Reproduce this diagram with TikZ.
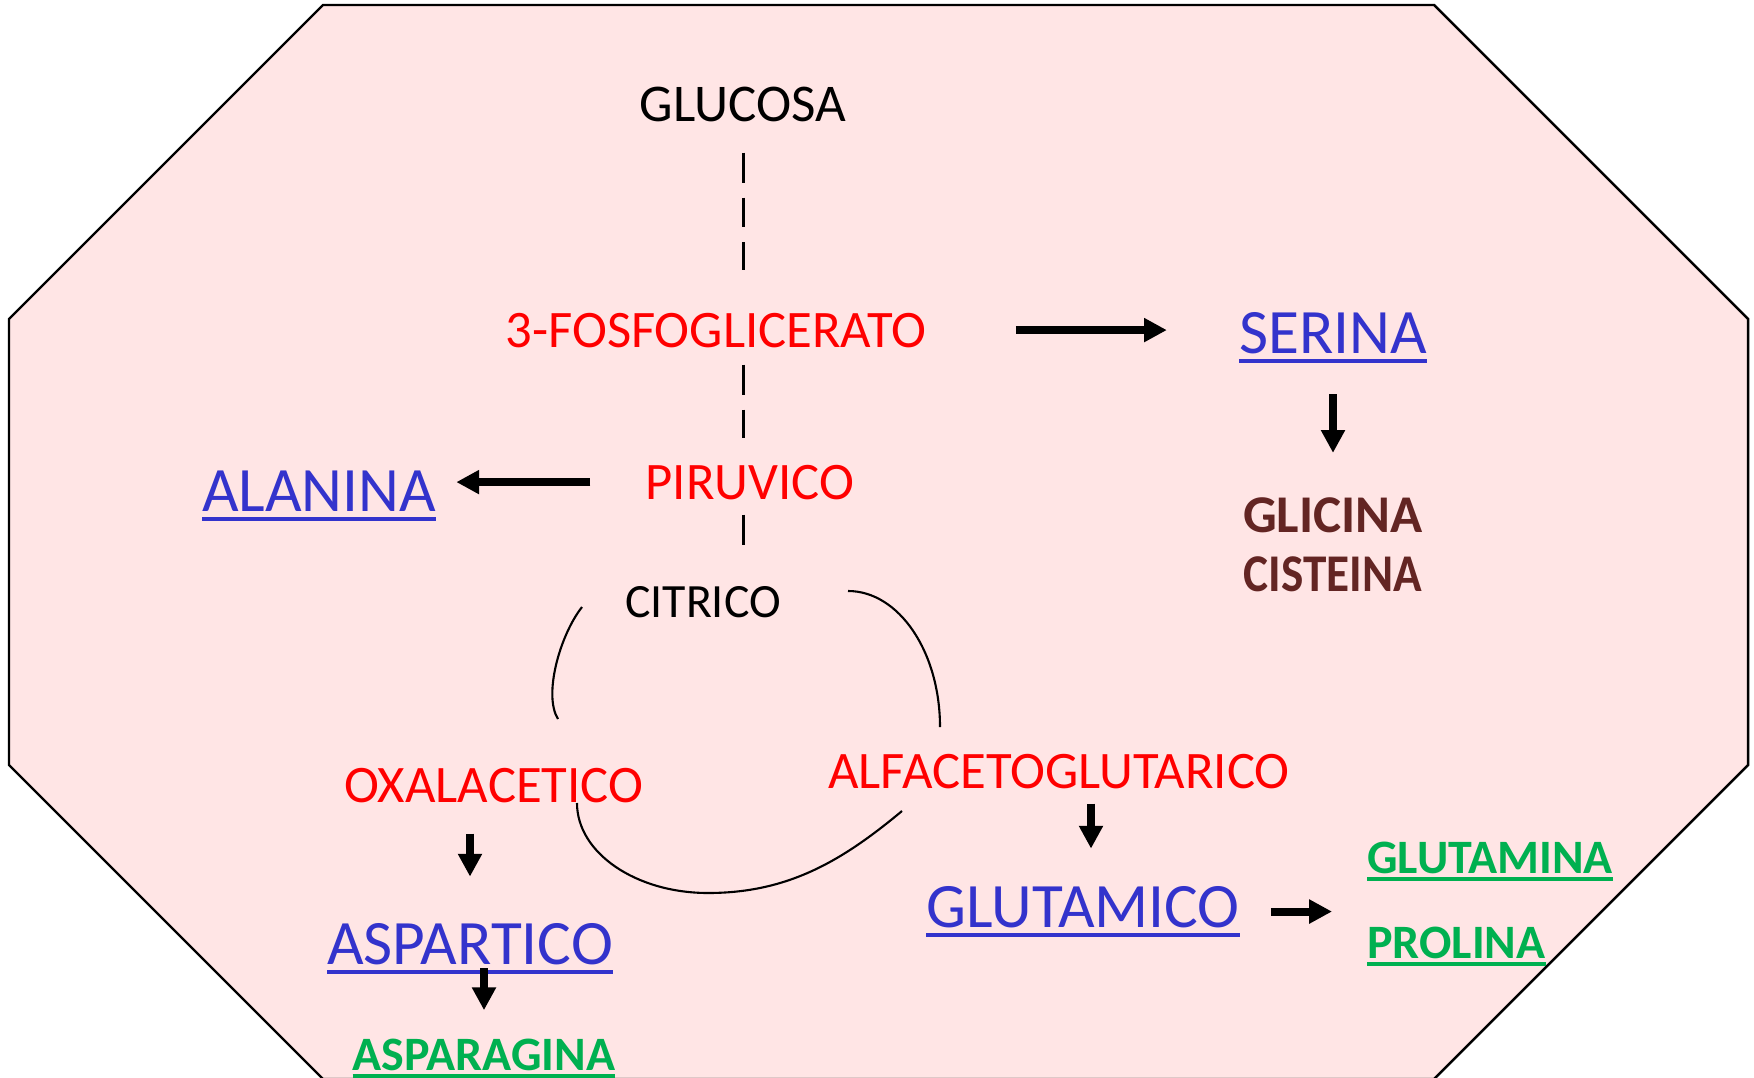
\documentclass[tikz,border=0pt]{standalone}
\usepackage{fontspec}
\setmainfont{Carlito}
\usepackage{graphicx}
\usetikzlibrary{arrows.meta,calc}
\usepackage{xcolor}

\definecolor{cellpink}{RGB}{255,229,229}
\definecolor{metred}{RGB}{255,0,0}
\definecolor{aminoblue}{RGB}{51,51,204}
\definecolor{prodbrown}{RGB}{99,37,35}
\definecolor{branchgreen}{RGB}{0,176,80}

\newsavebox{\ulbox}
\newcommand{\ulined}[1]{\sbox{\ulbox}{#1}\rlap{\rule[-0.16em]{\wd\ulbox}{0.07em}}\usebox{\ulbox}}

\begin{document}
\begin{tikzpicture}[
        x=0.02cm, y=-0.02cm,
        glyco/.style={inner sep=0pt, anchor=base, font=\fontsize{30.2}{36}\selectfont},
        inter/.style={glyco, text=metred, font=\fontsize{30}{36}\selectfont},
        amino/.style={inner sep=0pt, anchor=base, text=aminoblue, font=\fontsize{36}{43}\selectfont},
        product/.style={inner sep=0pt, anchor=base, text=prodbrown, font=\bfseries\fontsize{30.2}{36}\selectfont},
        branch/.style={inner sep=0pt, anchor=base west, text=branchgreen, font=\bfseries\fontsize{27.3}{33}\selectfont},
        fat/.style={-{Triangle[length=13pt,width=13pt]}, line width=4.5pt},
        route/.style={line width=1.7pt, dash pattern=on 17pt off 8.5pt},
        krebs/.style={line width=1.2pt}
    ]
        \useasboundingbox (0,0) rectangle (1754,1078);

        % Cell outline
        \draw[line width=1.4pt, fill=cellpink] (323,5) -- (1434,5) -- (1748,319) -- (1748,765)
            -- (1434,1079) -- (323,1079) -- (9,765) -- (9,319) -- cycle;

        % Main pathway
        \node[glyco] (glucosa) at (743,122) {GLUCOSA};
        \node[inter] (fosfo) at (716,347) {3-FOSFOGLICERATO};
        \node[inter] (piruvico) at (750,499) {PIRUVICO};
        \node[glyco, font=\fontsize{27.2}{33}\selectfont] (citrico) at (703,617) {CITRICO};
        \node[inter] (oxal) at (494,802) {OXALACETICO};
        \node[inter] (alfa) at (1059,788) {ALFACETOGLUTARICO};

        % Amino acids
        \node[amino] (serina) at (1333,353) {\ulined{SERINA}};
        \node[amino] (alanina) at (319,511) {\ulined{ALANINA}};
        \node[amino] (glutamico) at (1083,927) {\ulined{GLUTAMICO}};
        \node[amino] (aspartico) at (470,964) {\ulined{ASPARTICO}};
        \node[product] (glicina) at (1333,532) {GLICINA};
        \node[product] (cisteina) at (1333,591) {\scalebox{0.89}[1]{CISTEINA}};
        \node[branch] (glutamina) at (1367,873) {\ulined{GLUTAMINA}};
        \node[branch] (prolina) at (1367,958) {\ulined{PROLINA}};
        \node[branch, anchor=base] (asparagina) at (484,1070) {\ulined{ASPARAGINA}};

        % Dashed glycolysis line
        \draw[route, shorten <=0.6cm, shorten >=0.84cm] (glucosa.south) -- (glucosa.south |- fosfo.north);
        \draw[route, shorten <=0.34cm, shorten >=0.52cm] (glucosa.south |- fosfo.south) -- (glucosa.south |- piruvico.north);
        \draw[route, shorten <=0.3cm, shorten >=0.82cm] (glucosa.south |- piruvico.south) -- (glucosa.south |- citrico.north);

        % Citric acid cycle
        \draw[krebs] (582,607) .. controls (560,635) and (543,695) .. (558,719);
        \draw[krebs] (848,591) .. controls (899,591) and (940,652) .. (940,727);
        \draw[krebs] (577,803) .. controls (577,853) and (636,893) .. (708,893)
            .. controls (788,893) and (842,861) .. (902,811);

        % Synthesis arrows
        \draw[fat, shorten <=1.78cm, shorten >=1.44cm] (fosfo.east) -- (fosfo.east -| serina.west);
        \draw[fat, shorten <=1.1cm, shorten >=0.4cm] (piruvico.west) -- (piruvico.west -| alanina.east);
        \draw[fat, shorten <=0.62cm, shorten >=0.88cm] (serina.south) -- (glicina.north);
        \draw[fat, shorten <=0.62cm, shorten >=0.92cm] (aspartico.north |- oxal.south) -- (aspartico.north);
        \draw[fat, shorten <=0.3cm, shorten >=0.74cm] ($(glutamico.north |- alfa.south)+(8,0)$) -- ($(glutamico.north)+(8,0)$);
        \draw[fat, shorten <=0.62cm, shorten >=0.7cm] (glutamico.east) -- (glutamico.east -| glutamina.west);
        \draw[fat, shorten <=-0.12cm, shorten >=0.56cm] (asparagina.north |- aspartico.south) -- (asparagina.north);

    \end{tikzpicture}
\end{document}
